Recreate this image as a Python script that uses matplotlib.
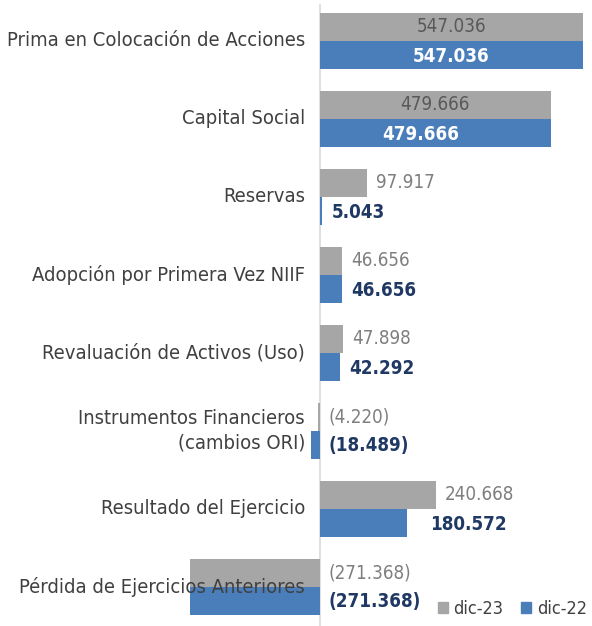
import matplotlib
matplotlib.use('Agg')
import matplotlib.pyplot as plt
from matplotlib.patches import Patch
import numpy as np

# Patrimonio: valores en millones, dic-23 vs dic-22
categories = [
    'Prima en Colocación de Acciones',
    'Capital Social',
    'Reservas',
    'Adopción por Primera Vez NIIF',
    'Revaluación de Activos (Uso)',
    'Instrumentos Financieros\n(cambios ORI)',
    'Resultado del Ejercicio',
    'Pérdida de Ejercicios Anteriores',
]
dic_23 = [547.036, 479.666, 97.917, 46.656, 47.898, -4.220, 240.668, -271.368]
dic_22 = [547.036, 479.666, 5.043, 46.656, 42.292, -18.489, 180.572, -271.368]
series_names = ['dic-23', 'dic-22']

GRAY = '#a6a6a6'
BLUE = '#4a7ebb'
LABEL_COLOR = '#404040'
GRAY_TEXT = '#7f7f7f'
BLUE_TEXT = '#1f3864'

plt.rcParams['font.family'] = ['DejaVu Sans']
plt.rcParams['font.stretch'] = 'condensed'

fig = plt.figure(figsize=(5.92, 6.26), dpi=100)
ax = fig.add_axes([0, 0, 1, 1])

scale = 263 / 547.036  # px per unit
ax.set_xlim(-320 / scale, 272 / scale)
# category centers at 41 + 78*i px from the top
ax.set_ylim(626, 0)

y = 41 + 78 * np.arange(len(categories))
bh = 28

ax.barh(y - bh / 2, dic_23, height=bh, color=GRAY)
ax.barh(y + bh / 2, dic_22, height=bh, color=BLUE)
ax.axvline(0, ymin=0, ymax=1 - 5 / 626, color='#d9d9d9', lw=1.2, zorder=0)

def fmt(v):
    s = f'{abs(v):.3f}'
    return f'({s})' if v < 0 else s

off = 9 / scale
for i, (a, b) in enumerate(zip(dic_23, dic_22)):
    if a > 400:
        ax.text(a / 2, y[i] - bh / 2, fmt(a), ha='center', va='center',
                fontsize=13.5, color='#595959')
        ax.text(b / 2 - 15 / scale * (i == 1), y[i] + bh / 2 + 1, fmt(b),
                ha='center', va='center', fontsize=13.5, color='white',
                fontweight='bold')
        continue
    xa = max(a, 0) + off
    xb = max(b, 0) + off
    if i == 6:
        xb += 14 / scale
    ax.text(xa, y[i] - bh / 2, fmt(a), ha='left', va='center',
            fontsize=13.5, color=GRAY_TEXT)
    ax.text(xb, y[i] + bh / 2 + 1, fmt(b), ha='left', va='center',
            fontsize=13.5, color=BLUE_TEXT, fontweight='bold')

for i, cat in enumerate(categories):
    ax.text(-15 / scale, y[i], cat, ha='right', va='center', fontsize=14.5,
            color=LABEL_COLOR, linespacing=1.35, zorder=5)

ax.axis('off')

handles = [Patch(color=GRAY), Patch(color=BLUE)]
fig.legend(handles, series_names, loc='center left',
           bbox_to_anchor=(438 / 592, 1 - 609 / 626), borderaxespad=0,
           borderpad=0, ncol=2, frameon=False, fontsize=13,
           handlelength=0.55, handleheight=0.55, handletextpad=0.3,
           columnspacing=1.0, labelcolor=LABEL_COLOR)

fig.savefig('out.png', dpi=100)
